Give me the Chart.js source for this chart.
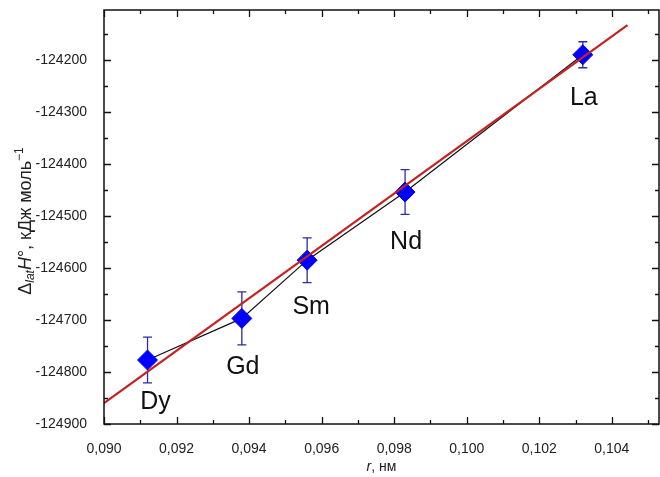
<!DOCTYPE html>
<html><head><meta charset="utf-8">
<script src="https://cdn.jsdelivr.net/npm/chart.js@4.4.0/dist/chart.umd.min.js"></script>
<style>html,body{margin:0;padding:0;background:#fff}</style>
</head><body>
<canvas id="c" width="660" height="477"></canvas>
<script>
// ---- data ----
const elements = ['Dy', 'Gd', 'Sm', 'Nd', 'La'];
const radii = [0.0912, 0.0938, 0.0956, 0.0983, 0.1032];
const enthalpy = [-124777, -124697, -124585, -124454, -124190];
const errors = [44, 51, 43, 43, 25];
const fitX = [0.0900, 0.10443];
const fitY = [-124860, -124133];
const xRange = [0.0900, 0.1053];
const yRange = [-124900, -124104];

const FONT = '"Liberation Sans", Arial, sans-serif';

const points = radii.map((x, i) => ({x: x, y: enthalpy[i]}));
const fit = fitX.map((x, i) => ({x: x, y: fitY[i]}));

// label offsets (pixels) relative to points
const labelOffset = [[8, 42], [1, 49], [4, 47], [1, 50], [1, 43]];

const errorBars = {
  id: 'errorBars',
  beforeDatasetsDraw(chart) {
    const ctx = chart.ctx, xs = chart.scales.x, ys = chart.scales.y;
    ctx.save();
    ctx.strokeStyle = '#2b2ba6';
    ctx.lineWidth = 1.3;
    radii.forEach((r, i) => {
      const px = xs.getPixelForValue(r);
      const top = ys.getPixelForValue(enthalpy[i] + errors[i]);
      const bot = ys.getPixelForValue(enthalpy[i] - errors[i]);
      ctx.beginPath();
      ctx.moveTo(px, top); ctx.lineTo(px, bot);
      ctx.moveTo(px - 4.5, top); ctx.lineTo(px + 4.5, top);
      ctx.moveTo(px - 4.5, bot); ctx.lineTo(px + 4.5, bot);
      ctx.stroke();
    });
    ctx.restore();
  },
  afterDatasetsDraw(chart) {
    const ctx = chart.ctx, xs = chart.scales.x, ys = chart.scales.y;
    ctx.save();
    ctx.fillStyle = '#111';
    ctx.font = '25px ' + FONT;
    ctx.textAlign = 'center';
    ctx.textBaseline = 'middle';
    elements.forEach((e, i) => {
      ctx.fillText(e, xs.getPixelForValue(radii[i]) + labelOffset[i][0],
                      ys.getPixelForValue(enthalpy[i]) + labelOffset[i][1]);
    });
    ctx.restore();
  }
};

function drawRich(ctx, parts, cx, cy) {
  let w = 0;
  parts.forEach(p => { ctx.font = p.f; p.w = ctx.measureText(p.t).width; w += p.w; });
  let x = cx - w / 2;
  parts.forEach(p => {
    ctx.font = p.f;
    ctx.fillText(p.t, x, cy + (p.dy || 0));
    x += p.w;
  });
}

const frame = {
  id: 'frame',
  afterDraw(chart) {
    const ctx = chart.ctx, a = chart.chartArea, xs = chart.scales.x, ys = chart.scales.y;
    ctx.save();
    ctx.strokeStyle = '#111';
    ctx.lineWidth = 1.5;
    ctx.strokeRect(a.left, a.top, a.right - a.left, a.bottom - a.top);
    ctx.lineWidth = 1.3;
    ctx.beginPath();
    xs.ticks.forEach(t => {
      const k = Math.round(t.value * 1000);
      const len = k % 2 === 0 ? 7 : 4;
      const px = Math.round(xs.getPixelForValue(t.value)) + 0.5;
      ctx.moveTo(px, a.bottom); ctx.lineTo(px, a.bottom - len);
      ctx.moveTo(px, a.top); ctx.lineTo(px, a.top + len);
    });
    ys.ticks.forEach(t => {
      const len = Math.round(t.value) % 100 === 0 ? 7 : 4;
      const py = Math.round(ys.getPixelForValue(t.value)) + 0.5;
      ctx.moveTo(a.left, py); ctx.lineTo(a.left + len, py);
      ctx.moveTo(a.right, py); ctx.lineTo(a.right - len, py);
    });
    ctx.stroke();

    ctx.fillStyle = '#222';
    ctx.textBaseline = 'alphabetic';
    // x title
    drawRich(ctx, [
      {t: 'r', f: 'italic 14px ' + FONT},
      {t: ', нм', f: '14px ' + FONT}
    ], (a.left + a.right) / 2, 471);
    // y title
    ctx.translate(31, (a.top + a.bottom) / 2 + 4);
    ctx.rotate(-Math.PI / 2);
    drawRich(ctx, [
      {t: 'Δ', f: '18px ' + FONT},
      {t: 'lat', f: 'italic 12px ' + FONT, dy: 3},
      {t: 'H', f: 'italic 18px ' + FONT},
      {t: '°, кДж моль', f: '18px ' + FONT},
      {t: '−1', f: '12px ' + FONT, dy: -8}
    ], 0, 0);
    ctx.restore();
  }
};

function noPad(s) { s.paddingLeft = 0; s.paddingRight = 0; s.paddingTop = 0; s.paddingBottom = 0; }

new Chart(document.getElementById('c'), {
  type: 'scatter',
  data: {
    datasets: [
      {
        label: 'fit',
        data: fit,
        showLine: true,
        borderColor: '#c42222',
        borderWidth: 2.2,
        pointRadius: 0,
        fill: false
      },
      {
        label: 'data',
        data: points,
        showLine: true,
        borderColor: '#111',
        borderWidth: 1.2,
        pointStyle: 'rectRot',
        pointRadius: 10,
        pointBackgroundColor: '#0000ff',
        pointBorderColor: '#0000ff',
        pointBorderWidth: 1
      }
    ]
  },
  options: {
    responsive: false,
    animation: false,
    devicePixelRatio: 1,
    layout: {autoPadding: false, padding: {top: 10, right: 1, left: 0, bottom: 0}},
    plugins: {legend: {display: false}, tooltip: {enabled: false}},
    scales: {
      x: {
        type: 'linear',
        min: xRange[0], max: xRange[1],
        border: {display: false},
        grid: {display: false},
        afterFit(s) { s.height = 53; noPad(s); },
        ticks: {
          stepSize: 0.001,
          includeBounds: false,
          autoSkip: false,
          maxRotation: 0,
          padding: 9,
          color: '#222',
          font: {family: FONT, size: 14},
          callback(v) {
            const k = Math.round(v * 1000);
            return k % 2 === 0 ? (k / 1000).toFixed(3).replace('.', ',') : '';
          }
        }
      },
      y: {
        type: 'linear',
        min: yRange[0], max: yRange[1],
        border: {display: false},
        grid: {display: false},
        afterFit(s) { s.width = 104; noPad(s); },
        ticks: {
          stepSize: 50,
          includeBounds: false,
          autoSkip: false,
          padding: 9,
          color: '#222',
          font: {family: FONT, size: 14},
          callback(v) {
            const k = Math.round(v);
            return k % 100 === 0 ? String(k) : '';
          }
        }
      }
    }
  },
  plugins: [errorBars, frame]
});
</script>
</body></html>
